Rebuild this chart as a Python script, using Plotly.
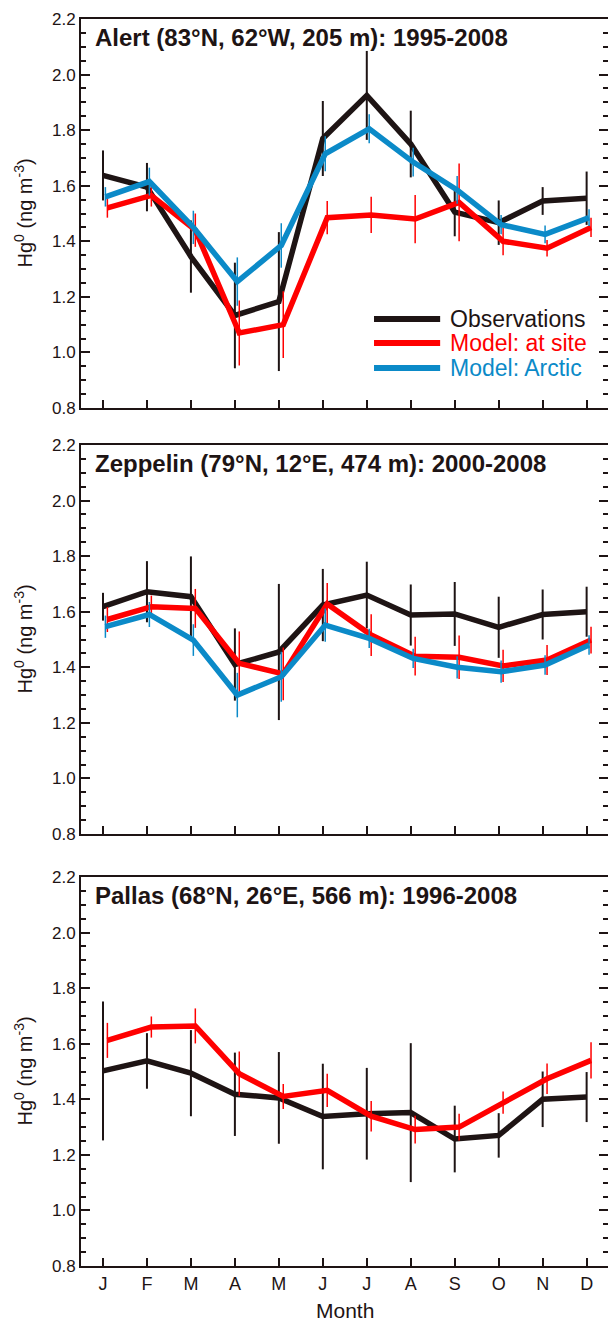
import plotly.graph_objects as go

# ---------------- data ----------------
month_labels = ["J", "F", "M", "A", "M", "J", "J", "A", "S", "O", "N", "D"]
month_index = list(range(1, 13))

alert_obs = [1.637, 1.595, 1.345, 1.133, 1.183, 1.77, 1.925, 1.75, 1.505, 1.467, 1.545, 1.555]
alert_obs_err = [0.09, 0.087, 0.13, 0.19, 0.25, 0.135, 0.16, 0.12, 0.087, 0.08, 0.05, 0.096]
alert_site = [1.52, 1.565, 1.44, 1.07, 1.10, 1.485, 1.495, 1.48, 1.54, 1.40, 1.375, 1.45]
alert_site_err = [0.035, 0.04, 0.06, 0.117, 0.12, 0.06, 0.065, 0.087, 0.14, 0.05, 0.03, 0.035]
alert_arctic = [1.56, 1.615, 1.45, 1.255, 1.385, 1.715, 1.805, 1.685, 1.585, 1.46, 1.425, 1.485]
alert_arctic_err = [0.035, 0.05, 0.06, 0.087, 0.08, 0.063, 0.052, 0.052, 0.05, 0.035, 0.032, 0.03]

zep_obs = [1.618, 1.672, 1.654, 1.41, 1.455, 1.624, 1.66, 1.588, 1.592, 1.544, 1.59, 1.6]
zep_obs_err = [0.05, 0.11, 0.145, 0.13, 0.245, 0.13, 0.12, 0.11, 0.115, 0.11, 0.09, 0.09]
zep_site = [1.572, 1.618, 1.612, 1.414, 1.376, 1.628, 1.516, 1.44, 1.436, 1.405, 1.426, 1.498]
zep_site_err = [0.045, 0.04, 0.07, 0.115, 0.095, 0.075, 0.075, 0.07, 0.078, 0.058, 0.054, 0.048]
zep_arctic = [1.546, 1.59, 1.498, 1.30, 1.366, 1.552, 1.504, 1.432, 1.40, 1.384, 1.408, 1.48]
zep_arctic_err = [0.04, 0.045, 0.057, 0.08, 0.09, 0.06, 0.035, 0.035, 0.04, 0.04, 0.035, 0.035]

pal_obs = [1.502, 1.538, 1.494, 1.418, 1.405, 1.338, 1.348, 1.352, 1.257, 1.27, 1.40, 1.408]
pal_obs_err = [0.25, 0.1, 0.155, 0.15, 0.165, 0.19, 0.165, 0.25, 0.12, 0.08, 0.1, 0.09]
pal_site = [1.612, 1.66, 1.664, 1.492, 1.41, 1.432, 1.339, 1.291, 1.30, 1.388, 1.474, 1.54]
pal_site_err = [0.063, 0.038, 0.063, 0.08, 0.045, 0.06, 0.055, 0.05, 0.048, 0.04, 0.055, 0.065]

panel_titles = [
    "Alert (83°N, 62°W, 205 m): 1995-2008",
    "Zeppelin (79°N, 12°E, 474 m): 2000-2008",
    "Pallas (68°N, 26°E, 566 m): 1996-2008",
]
legend_names = ["Observations", "Model: at site", "Model: Arctic"]
y_ticks = [0.8, 1.0, 1.2, 1.4, 1.6, 1.8, 2.0, 2.2]

# ---------------- style ----------------
BLACK = "#1e1414"
RED = "#ff0000"
BLUE = "#0b8ac8"
FONT = "Liberation Sans, Arial, Helvetica, sans-serif"
W, H = 608, 1322
ML, MR, MT, MB = 81, 0, 19, 56
site_shift = 0.10
arctic_shift = 0.055

panels = [
    (alert_obs, alert_obs_err, alert_site, alert_site_err, alert_arctic, alert_arctic_err),
    (zep_obs, zep_obs_err, zep_site, zep_site_err, zep_arctic, zep_arctic_err),
    (pal_obs, pal_obs_err, pal_site, pal_site_err, None, None),
]
# panel frames in pixels (top, bottom)
frames = [(19, 408), (445, 834), (877, 1266)]
plot_h = H - MT - MB


def dom(top, bottom):
    return [(H - MB - bottom) / plot_h, (H - MB - top) / plot_h]


fig = go.Figure()
for i, (obs, obs_e, site, site_e, arc, arc_e) in enumerate(panels):
    xa = "x" if i == 0 else f"x{i+1}"
    ya = "y" if i == 0 else f"y{i+1}"
    fig.add_trace(go.Scatter(
        x=month_index, y=obs, mode="lines", xaxis=xa, yaxis=ya,
        line=dict(color=BLACK, width=5.5), showlegend=False,
        error_y=dict(type="data", array=obs_e, width=0, thickness=2, color=BLACK)))
    fig.add_trace(go.Scatter(
        x=[m + site_shift for m in month_index], y=site, mode="lines", xaxis=xa, yaxis=ya,
        line=dict(color=RED, width=5.5), showlegend=False,
        error_y=dict(type="data", array=site_e, width=0, thickness=1.5, color=RED)))
    if arc is not None:
        fig.add_trace(go.Scatter(
            x=[m + arctic_shift for m in month_index], y=arc, mode="lines", xaxis=xa, yaxis=ya,
            line=dict(color=BLUE, width=5.5), showlegend=False,
            error_y=dict(type="data", array=arc_e, width=0, thickness=1.5, color=BLUE)))

axis_common = dict(showline=True, linewidth=2, linecolor=BLACK, showgrid=False,
                   zeroline=False, tickcolor=BLACK, tickwidth=2, automargin=False,
                   tickfont=dict(family=FONT, size=17, color=BLACK))
layout = dict(width=W, height=H, margin=dict(l=ML, r=MR, t=MT, b=MB, autoexpand=False),
              paper_bgcolor="white", plot_bgcolor="white", showlegend=False)
annotations = []
shapes = []
for i, (top, bottom) in enumerate(frames):
    sfx = "" if i == 0 else str(i + 1)
    layout["xaxis" + sfx] = dict(
        axis_common, domain=[0, 1], range=[0.5, 12.486], anchor="y" + sfx,
        tickvals=month_index, ticktext=month_labels, ticks="inside", ticklen=8,
        mirror=True, showticklabels=(i == 2),
        tickfont=dict(family=FONT, size=18, color=BLACK))
    layout["yaxis" + sfx] = dict(
        axis_common, domain=dom(top, bottom), range=[0.8, 2.2], anchor="x" + sfx,
        tickvals=y_ticks, tickformat=".1f", ticks="inside", ticklen=9, mirror="ticks",
        minor=dict(dtick=0.05, tick0=0.8, ticks="inside", ticklen=5, tickwidth=2, tickcolor=BLACK))
    xd = ("x" if i == 0 else f"x{i+1}") + " domain"
    yd = ("y" if i == 0 else f"y{i+1}") + " domain"
    annotations.append(dict(
        text="<b>" + panel_titles[i] + "</b>", xref=xd, yref=yd, x=0.022, y=0.952,
        xanchor="left", yanchor="middle", showarrow=False,
        font=dict(family=FONT, size=24, color=BLACK)))
    annotations.append(dict(
        text="Hg<sup>0</sup> (ng m<sup>-3</sup>)", xref=xd, yref=yd, x=-0.11, y=0.5,
        xanchor="center", yanchor="middle", textangle=-90, showarrow=False,
        font=dict(family=FONT, size=20, color=BLACK)))

annotations.append(dict(
    text="Month", xref="x3 domain", yref="y3 domain", x=0.5, y=-0.115,
    xanchor="center", yanchor="middle", showarrow=False,
    font=dict(family=FONT, size=21, color=BLACK)))

# legend (top panel)
leg_colors = [BLACK, RED, BLUE]
leg_rows = [0.229, 0.167, 0.103]
for name, col, yy in zip(legend_names, leg_colors, leg_rows):
    shapes.append(dict(type="line", xref="x domain", yref="y domain",
                       x0=0.556, x1=0.6815, y0=yy, y1=yy,
                       line=dict(color=col, width=6)))
    annotations.append(dict(
        text=name, xref="x domain", yref="y domain", x=0.6966, y=yy,
        xanchor="left", yanchor="middle", showarrow=False,
        font=dict(family=FONT, size=23, color=col)))

layout["annotations"] = annotations
layout["shapes"] = shapes
fig.update_layout(**layout)
fig.write_html("out.html", config={"displayModeBar": False},
               post_script="document.body.style.margin='0px';document.body.style.overflow='hidden';")
